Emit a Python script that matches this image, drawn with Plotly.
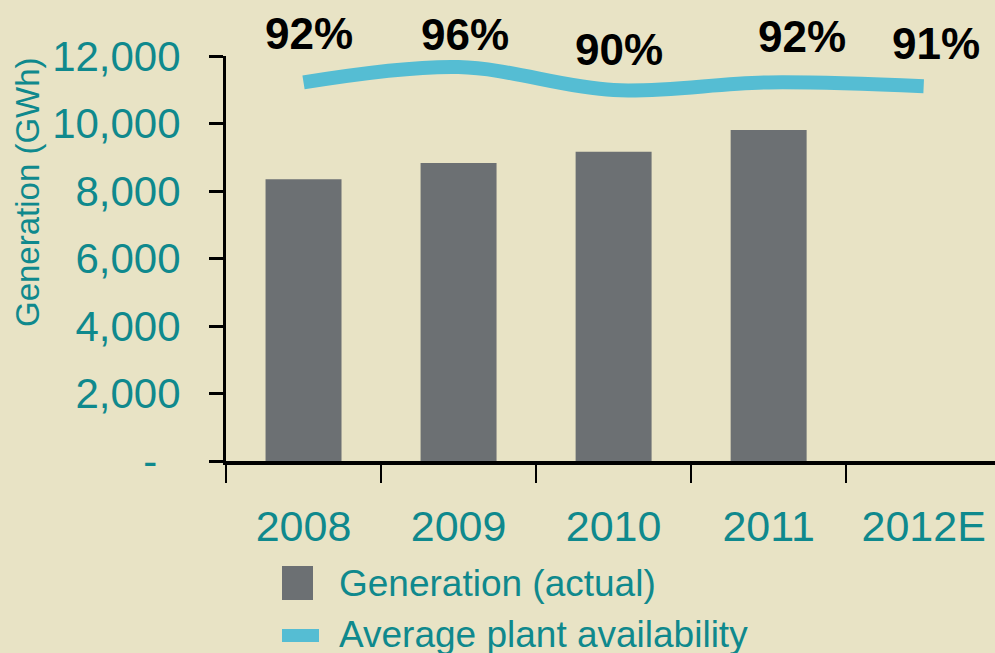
import plotly.graph_objects as go

years = ["2008", "2009", "2010", "2011", "2012E"]
generation = [8350, 8830, 9160, 9810, None]
availability = [92, 96, 90, 92, 91]
avail_labels = ["92%", "96%", "90%", "92%", "91%"]
y_tickvals = [0, 2000, 4000, 6000, 8000, 10000, 12000]
y_ticktext = ["-\u00a0\u00a0", "2,000", "4,000", "6,000", "8,000", "10,000", "12,000"]

BG = "#E8E3C5"
TEAL = "#0F898D"
BAR = "#6C7073"
CYAN = "#55BDD3"
ARIAL = "Liberation Sans, Arial, sans-serif"

# plot-area geometry (pixels)
L, T, B, W, H = 226, 56, 192, 995, 653
PW, PH = W - L, H - T - B


def px(x):
    return (x - L) / PW


def py(y):
    return (H - B - y) / PH


label_xshift = [5, 6, 5, 33, 12]
label_yshift = [49, 33, 41, 46, 43]

fig = go.Figure()
fig.add_trace(go.Bar(x=years, y=generation, marker=dict(color=BAR, line=dict(width=0)),
                     width=0.49, name="Generation (actual)", showlegend=False))
fig.add_trace(go.Scatter(x=years, y=availability, yaxis="y2", mode="lines",
                         line=dict(color=CYAN, width=14, shape="spline", smoothing=1.0),
                         name="Average plant availability", showlegend=False))

annotations = []
for i, (v, t, dx, dy) in enumerate(zip(availability, avail_labels, label_xshift, label_yshift)):
    annotations.append(dict(x=i, y=v, xref="x", yref="y2", text="<b>%s</b>" % t, showarrow=False,
                            xshift=dx, yshift=dy, xanchor="center", yanchor="middle",
                            font=dict(family=ARIAL, size=44, color="black")))

annotations.append(dict(x=px(27), y=py(192), xref="paper", yref="paper", text="Generation (GWh)",
                        showarrow=False, textangle=-90, xanchor="center", yanchor="middle",
                        font=dict(family=ARIAL, size=33, color=TEAL)))

annotations.append(dict(x=px(337), y=py(583), xref="paper", yref="paper",
                        xanchor="left", yanchor="middle", showarrow=False,
                        text="Generation (actual)", font=dict(family=ARIAL, size=37, color=TEAL)))
annotations.append(dict(x=px(337), y=py(634), xref="paper", yref="paper",
                        xanchor="left", yanchor="middle", showarrow=False,
                        text="Average plant availability", font=dict(family=ARIAL, size=37, color=TEAL)))

shapes = [
    dict(type="rect", xref="paper", yref="paper",
         x0=px(282), x1=px(313), y0=py(600), y1=py(566),
         fillcolor=BAR, line=dict(width=0)),
    dict(type="rect", xref="paper", yref="paper",
         x0=px(282), x1=px(319), y0=py(642), y1=py(629),
         fillcolor=CYAN, line=dict(width=0)),
]

fig.update_layout(
    width=W, height=H,
    paper_bgcolor=BG, plot_bgcolor=BG,
    margin=dict(l=L, r=0, t=T, b=B),
    xaxis=dict(type="category", range=[-0.5, 4.46], showgrid=False, zeroline=False,
               showline=True, linecolor="black", linewidth=4,
               ticks="outside", tickson="boundaries", ticklen=18, tickwidth=2, tickcolor="black",
               tickfont=dict(family=ARIAL, size=43, color=TEAL), ticklabelstandoff=24),
    yaxis=dict(range=[0, 12000], tickvals=y_tickvals, ticktext=y_ticktext,
               showgrid=False, zeroline=False, showline=True, linecolor="black", linewidth=3,
               ticks="outside", ticklen=14, tickwidth=3, tickcolor="black",
               tickfont=dict(family=ARIAL, size=42, color=TEAL), ticklabelstandoff=20),
    yaxis2=dict(range=[-6.9, 98.9], overlaying="y", visible=False),
    showlegend=False,
    shapes=shapes,
    annotations=annotations,
)

fig.write_html("out.html", config={"displayModeBar": False},
               post_script="document.body.style.margin='0';document.body.style.overflow='hidden';")
